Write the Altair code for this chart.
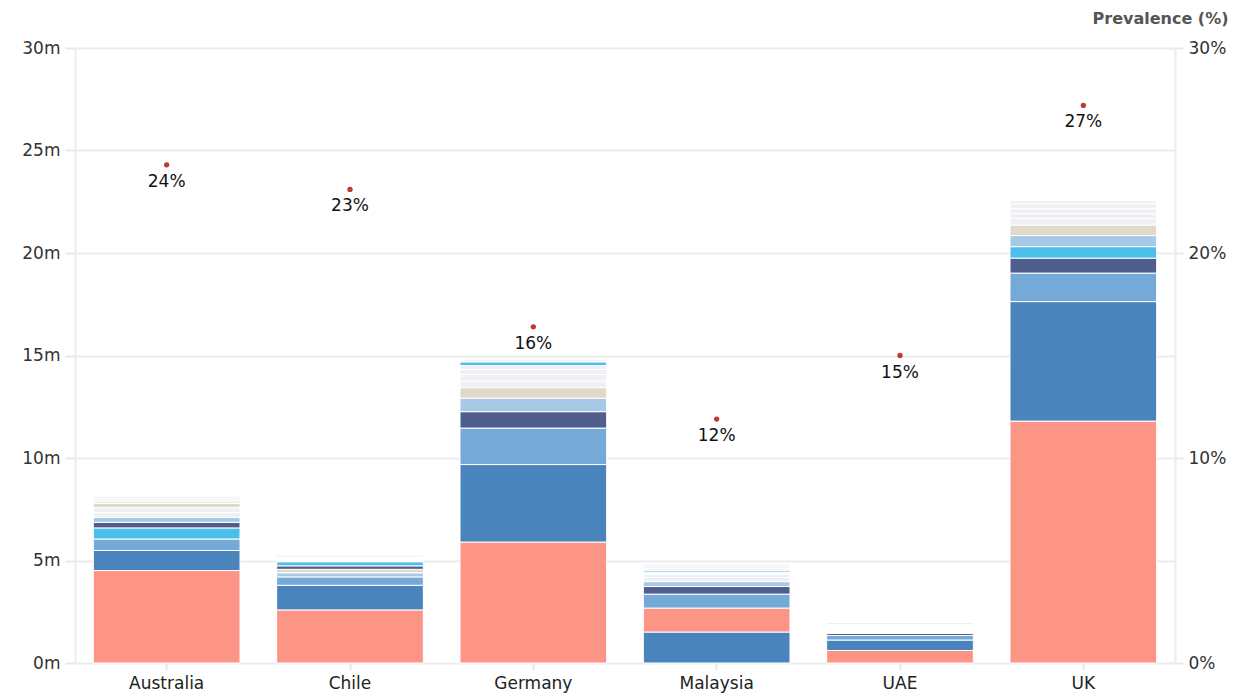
import altair as alt
import pandas as pd

countries = ["Australia", "Chile", "Germany", "Malaysia", "UAE", "UK"]

# stacked segments, bottom -> top, values in millions
aus_cats = ["A", "B", "C", "D", "E", "F", "O1", "O2", "G", "O3", "O4", "O5"]
aus_vals = [4.51, 0.98, 0.56, 0.54, 0.27, 0.24, 0.24, 0.24, 0.20, 0.15, 0.10, 0.10]
chl_cats = ["A", "B", "C", "F", "G", "E", "D", "W", "O1"]
chl_vals = [2.59, 1.20, 0.41, 0.20, 0.17, 0.17, 0.20, 0.22, 0.10]
deu_cats = ["A", "B", "C", "E", "F", "G", "O1", "O2", "O3", "O4", "D", "O5"]
deu_vals = [5.90, 3.78, 1.78, 0.80, 0.66, 0.51, 0.32, 0.32, 0.24, 0.20, 0.18, 0.10]
mys_cats = ["B", "A", "C", "E", "F", "O1", "O2", "W", "D", "O3", "O4", "O5"]
mys_vals = [1.51, 1.17, 0.68, 0.37, 0.24, 0.20, 0.15, 0.10, 0.08, 0.10, 0.10, 0.12]
uae_cats = ["A", "B", "C", "E", "W", "O1"]
uae_vals = [0.61, 0.51, 0.22, 0.10, 0.44, 0.10]
gbr_cats = ["A", "B", "C", "E", "D", "F", "G", "O1", "O2", "O3", "O4", "O5"]
gbr_vals = [11.80, 5.83, 1.39, 0.73, 0.56, 0.54, 0.51, 0.32, 0.24, 0.24, 0.24, 0.15]

prevalence = [24.3, 23.1, 16.4, 11.9, 15.0, 27.2]
prev_labels = ["24%", "23%", "16%", "12%", "15%", "27%"]

cat_domain = ["A", "B", "C", "D", "E", "F", "G", "W", "O1", "O2", "O3", "O4", "O5"]
cat_colors = ["#fd9587", "#4a84bc", "#74a9d8", "#4bbfe9", "#4f5e8c", "#a6c9e7",
              "#e0d9c7", "#ffffff", "#eff0f3", "#eff0f3", "#eff0f3", "#eff0f3", "#eff0f3"]

stacks = [(aus_cats, aus_vals), (chl_cats, chl_vals), (deu_cats, deu_vals),
          (mys_cats, mys_vals), (uae_cats, uae_vals), (gbr_cats, gbr_vals)]

rows = []
for c, (cats, vals) in zip(countries, stacks):
    for i, (k, v) in enumerate(zip(cats, vals)):
        rows.append({"country": c, "cat": k, "value": v, "rank": i})
bars_df = pd.DataFrame(rows)
prev_df = pd.DataFrame({"country": countries, "prev": prevalence, "label": prev_labels})

FONT = "DejaVu Sans"
x_enc = alt.X("country:N", sort=countries, title=None,
              scale=alt.Scale(paddingInner=0.2, paddingOuter=0.1),
              axis=alt.Axis(labelAngle=0, labelFontSize=17, labelColor="#222",
                            labelFont=FONT, tickColor="#e6e6e6", tickWidth=2,
                            tickSize=7, domain=False, labelPadding=5))

bars = alt.Chart(bars_df).mark_bar(stroke="white", strokeWidth=1).encode(
    x=x_enc,
    y=alt.Y("value:Q", stack="zero", title=None,
            scale=alt.Scale(domain=[0, 30], nice=False),
            axis=alt.Axis(values=[0, 5, 10, 15, 20, 25, 30],
                          labelExpr="datum.value + 'm'", labelFontSize=17,
                          labelColor="#333", labelFont=FONT, tickSize=10,
                          tickColor="#e8e8e8", tickWidth=2, domainColor="#ececec",
                          domainWidth=2, gridColor="#ececec", gridWidth=2,
                          labelPadding=5)),
    color=alt.Color("cat:N", scale=alt.Scale(domain=cat_domain, range=cat_colors), legend=None),
    order=alt.Order("rank:Q", sort="ascending"),
)

y_prev = alt.Y("prev:Q", title="Prevalence (%)",
               scale=alt.Scale(domain=[0, 30], nice=False),
               axis=alt.Axis(orient="right", values=[0, 10, 20, 30],
                             labelExpr="datum.value + '%'", labelFontSize=17,
                             labelColor="#333", labelFont=FONT, tickSize=8,
                             tickColor="#e8e8e8", tickWidth=2, domainColor="#ececec",
                             domainWidth=2, grid=False, labelPadding=5,
                             titleAngle=0, titleAlign="right", titleBaseline="middle",
                             titleX=53, titleY=-30, titleFontSize=16,
                             titleFont=FONT, titleFontWeight="bold", titleColor="#555"))

points = alt.Chart(prev_df).mark_circle(size=28, color="#c0392b", opacity=1).encode(
    x=alt.X("country:N", sort=countries), y=y_prev)
labels = alt.Chart(prev_df).mark_text(dy=17, fontSize=17, font=FONT, color="#111").encode(
    x=alt.X("country:N", sort=countries),
    y=y_prev,
    text="label:N")

right = alt.layer(points, labels)

chart = alt.layer(bars, right).resolve_scale(y="independent").properties(
    width=1100, height=615,
    autosize=alt.AutoSizeParams(type="none"),
    padding={"left": 67, "top": 40, "right": 54, "bottom": 30},
).configure_view(stroke=None)

chart.save("out.html", embed_options={"renderer": "svg", "actions": False})
